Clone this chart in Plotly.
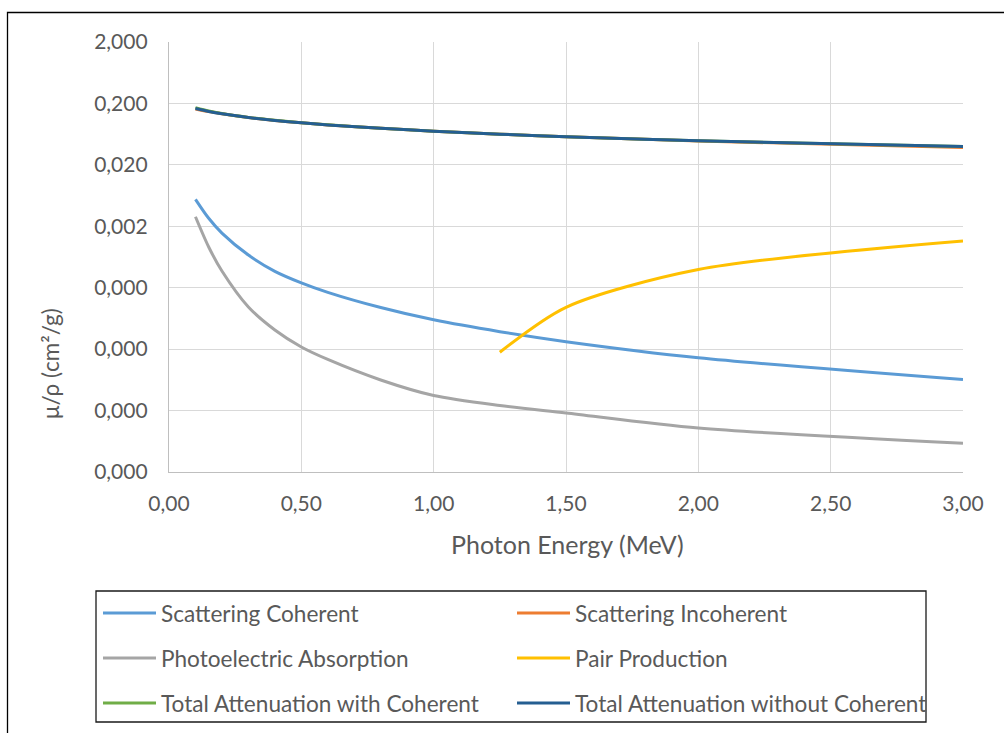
import plotly.graph_objects as go

# ---------------- data ----------------
energy = [0.1, 0.15, 0.2, 0.3, 0.4, 0.5, 0.6, 0.8, 1.0, 1.25, 1.5, 2.0, 3.0]

scatter_coherent = [5.5e-3, 2.7e-3, 1.55e-3, 6.8e-4, 3.7e-4, 2.4e-4, 1.68e-4,
                    9.5e-5, 6.0e-5, 3.85e-5, 2.65e-5, 1.45e-5, 6.4e-6]
scatter_incoherent = [0.1626, 0.1473, 0.1356, 0.1181, 0.1058, 0.0966, 0.0894,
                      0.0786, 0.0707, 0.0632, 0.0574, 0.0489, 0.0383]
photoelectric = [2.86e-3, 9.2e-4, 3.74e-4, 9.7e-5, 4.1e-5, 2.17e-5, 1.36e-5,
                 6.3e-6, 3.52e-6, 2.42e-6, 1.83e-6, 1.04e-6, 5.9e-7]
pair_production = [None, None, None, None, None, None, None,
                   None, None, 1.78e-5, 9.6e-5, 3.95e-4, 1.15e-3]
total_with_coh = [0.1707, 0.1505, 0.1370, 0.1186, 0.1061, 0.0969, 0.0896,
                  0.0787, 0.0707, 0.0632, 0.0575, 0.0494, 0.0397]
total_without_coh = [0.1652, 0.1479, 0.1355, 0.1180, 0.1058, 0.0967, 0.0894,
                     0.0786, 0.0707, 0.0632, 0.0575, 0.0494, 0.0397]

series_names = ["Scattering Coherent", "Scattering Incoherent",
                "Photoelectric Absorption", "Pair Production",
                "Total Attenuation with Coherent",
                "Total Attenuation without Coherent"]
series_values = [scatter_coherent, scatter_incoherent, photoelectric,
                 pair_production, total_with_coh, total_without_coh]
series_colors = ["#5B9BD5", "#ED7D31", "#A5A5A5", "#FFC000", "#70AD47", "#255E91"]

x_ticks = [0, 0.5, 1.0, 1.5, 2.0, 2.5, 3.0]
y_ticks = [2e-7, 2e-6, 2e-5, 2e-4, 2e-3, 2e-2, 2e-1, 2]

x_title = "Photon Energy (MeV)"
y_title = "μ/ρ (cm²/g)"

# ---------------- layout geometry ----------------
W, H = 1004, 733
L, R, T, B = 169, 963, 42, 472
FONT = "Lato"
TXT = "#595959"


def px(xp):
    return (xp - L) / (R - L)


def py(yp):
    return (B - yp) / (B - T)


fig = go.Figure()
for name, vals, col in zip(series_names, series_values, series_colors):
    fig.add_trace(go.Scatter(
        x=energy, y=vals, name=name, mode="lines",
        line=dict(color=col, width=3, shape="spline", smoothing=0.8),
        connectgaps=False, showlegend=False))

shapes = []
annotations = []

# outer chart border (extends past right/bottom edges like the reference)
shapes.append(dict(type="rect", xref="paper", yref="paper",
                   x0=px(7.5), x1=px(1010), y0=py(745), y1=py(12.5),
                   line=dict(color="#000000", width=1.3), layer="below"))

# legend box
shapes.append(dict(type="rect", xref="paper", yref="paper",
                   x0=px(96), x1=px(926), y0=py(722), y1=py(591),
                   line=dict(color="#1a1a1a", width=1.3)))
col_x = [103, 517]
row_y = [613, 658, 703]
for i, (name, col) in enumerate(zip(series_names, series_colors)):
    r, c = divmod(i, 2)
    x0 = col_x[c]
    yy = row_y[r]
    shapes.append(dict(type="line", xref="paper", yref="paper",
                       x0=px(x0), x1=px(x0 + 53), y0=py(yy), y1=py(yy),
                       line=dict(color=col, width=3)))
    annotations.append(dict(xref="paper", yref="paper", x=px(x0 + 56), y=py(yy),
                            text=name, showarrow=False, xanchor="left",
                            yanchor="middle",
                            font=dict(family=FONT, size=22.6, color=TXT)))

# axis titles
annotations.append(dict(xref="paper", yref="paper", x=px(567), y=py(544),
                        text=x_title, showarrow=False, xanchor="center",
                        yanchor="middle",
                        font=dict(family=FONT, size=25, color=TXT)))
annotations.append(dict(xref="paper", yref="paper", x=px(50), y=py(364),
                        text=y_title, showarrow=False, textangle=-90,
                        xanchor="center", yanchor="middle",
                        font=dict(family=FONT, size=22.5, color=TXT)))

fig.update_layout(
    width=W, height=H, autosize=False,
    margin=dict(l=L, r=W - R, t=T, b=H - B, pad=0),
    paper_bgcolor="white", plot_bgcolor="white",
    separators=",.",
    font=dict(family=FONT, size=21, color=TXT),
    shapes=shapes, annotations=annotations,
    xaxis=dict(range=[0, 3], tickvals=x_ticks, tickformat=".2f",
               showgrid=True, gridcolor="#D9D9D9", gridwidth=1,
               showline=True, linecolor="#BFBFBF", linewidth=1.3,
               zeroline=False, ticks="", ticklabelstandoff=13,
               tickfont=dict(family=FONT, size=21, color=TXT)),
    yaxis=dict(type="log", range=[-6.69897, 0.30103], tickvals=y_ticks,
               tickformat=".3f",
               showgrid=True, gridcolor="#D9D9D9", gridwidth=1,
               showline=True, linecolor="#BFBFBF", linewidth=1.3,
               zeroline=False, ticks="", ticklabelstandoff=16,
               tickfont=dict(family=FONT, size=21, color=TXT)),
)

fig.write_html("out.html")
